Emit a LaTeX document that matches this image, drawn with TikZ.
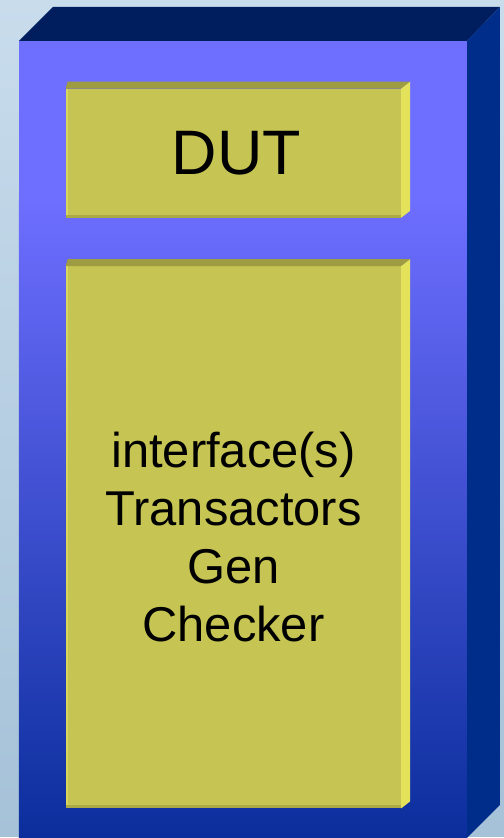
\documentclass[tikz,border=0pt]{standalone}
\usepackage{fontspec}
\setmainfont{Liberation Sans}
\usepackage{tikz}

\definecolor{bgtop}{HTML}{C8DCEC}
\definecolor{bgbot}{HTML}{A6C2D8}
\definecolor{boxlight}{HTML}{6E6EFF}
\definecolor{boxdark}{HTML}{0B2E9C}
\definecolor{boxtop}{HTML}{001E5E}
\definecolor{boxside}{HTML}{002C8A}
\definecolor{yelfront}{HTML}{C6C452}
\definecolor{yeltop}{HTML}{9E9C42}
\definecolor{yelside}{HTML}{E4E25A}
\definecolor{yeledge}{HTML}{D8D65C}
\definecolor{yelbottom}{HTML}{ACAA46}

\begin{document}
\begin{tikzpicture}[x=1pt, y=-1pt,
		yellow_style/.style={rectangle,fill=yelfront,inner sep=0pt,
			minimum width=336pt,align=center,text=black},
		top_style/.style={fill=yeltop},
		side_style/.style={fill=yelside}]

		% background and outer box
		\shade[top color=bgtop,bottom color=bgbot] (0,0) rectangle (505,838);
		\fill[boxtop] (19,41) -- (53,7) -- (501,7) -- (468,41) -- cycle;
		\fill[boxside] (468,41) -- (501,7) -- (501,807) -- (468,840) -- cycle;
		\fill[boxlight] (19,41) rectangle (468,200);
		\shade[top color=boxlight,bottom color=boxdark] (19,200) rectangle (468,840);

		% yellow boxes
		\node[yellow_style,minimum height=129pt] (dut) at (234,153.5) {};
		\node[font=\fontsize{63}{76}\selectfont] (duttext) at (237,153.5) {DUT};
		\node[yellow_style,minimum height=543pt,font=\fontsize{49}{58}\selectfont] (tb) at (234,538.5)
			{interface(s)\\Transactors\\Gen\\Checker};

		\foreach \b in {dut,tb} {
			\fill[top_style] (\b.north west) -- ([shift={(2,-7)}]\b.north west)
				-- ([shift={(9,-7)}]\b.north east) -- (\b.north east) -- cycle;
			\fill[side_style] (\b.north east) -- ([shift={(9,-7)}]\b.north east)
				-- ([shift={(9,-7)}]\b.south east) -- (\b.south east) -- cycle;
			\fill[yeledge] (\b.north west) rectangle ([xshift=2pt]\b.south west);
			\fill[yelbottom] (\b.south west) rectangle ([yshift=3pt]\b.south east);
		}

		\useasboundingbox (0,0) rectangle (505,838);
		\end{tikzpicture}
\end{document}
